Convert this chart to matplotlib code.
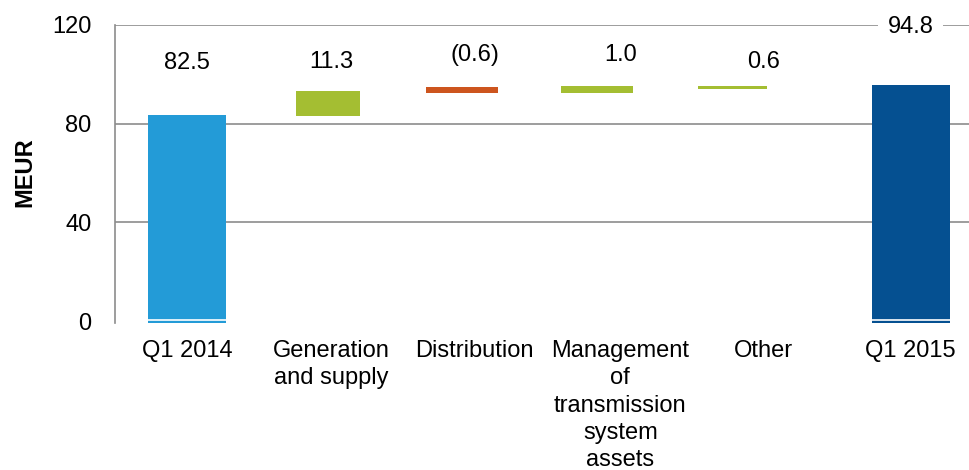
import matplotlib
matplotlib.use('Agg')
import matplotlib.pyplot as plt

plt.rcParams['font.family'] = ['Liberation Sans', 'DejaVu Sans']

# categories and values (bar extents as drawn in the reference)
categories = ['Q1 2014', 'Generation\nand supply', 'Distribution',
              'Management\nof\ntransmission\nsystem\nassets', 'Other', 'Q1 2015']
bar_bottoms = [-0.8, 83.1, 92.3, 92.3, 94.0, -0.8]
bar_tops = [83.5, 93.2, 94.7, 95.4, 95.1, 95.7]
value_labels = ['82.5', '11.3', '(0.6)', '1.0', '0.6', '94.8']
label_y = [104.5, 104.8, 108.0, 108.0, 104.8, 119.2]
bar_colors = ['#239BD7', '#A4BE32', '#CD551E', '#A4BE32', '#A4BE32', '#055091']
grid_vals = [40, 80, 120]

# layout
bar_x = [0, 1.044, 2.04, 3.04, 4.04, 5.36]
bar_w = [0.578, 0.48, 0.533, 0.533, 0.51, 0.578]
text_x = [0, 1.067, 2.13, 3.21, 4.27, 5.36]

fig = plt.figure(figsize=(9.7, 4.7), dpi=100)
ax = fig.add_axes([115 / 970, 147 / 470, 855 / 970, 298 / 470])

heights = [t - b for t, b in zip(bar_tops, bar_bottoms)]
ax.bar(bar_x, heights, bottom=bar_bottoms, width=bar_w, color=bar_colors,
       linewidth=0, zorder=3)
# thin white line near the base of the total bars
for i in (0, 5):
    ax.plot([bar_x[i] - bar_w[i] / 2, bar_x[i] + bar_w[i] / 2], [0.35, 0.35],
            color='white', lw=1.2, zorder=4, solid_capstyle='butt')

for i, lab in enumerate(value_labels):
    kw = {}
    if i == 5:
        kw['bbox'] = dict(facecolor='white', edgecolor='none', pad=7)
    ax.text(text_x[i], label_y[i], lab, ha='center', va='center',
            fontsize=17, color='black', zorder=5, **kw)

for g in grid_vals:
    ax.axhline(g, color='#8c8c8c', lw=1.2, zorder=0)

ax.set_xlim(-0.533, 5.8)
ax.set_ylim(-0.8, 120)
ax.set_yticks([0, 40, 80, 120])
ax.tick_params(axis='y', length=0, pad=17, labelsize=17)
ax.set_xticks(text_x)
ax.set_xticklabels(categories, fontsize=17, linespacing=1.32)
ax.tick_params(axis='x', length=0, pad=12)

for s in ['top', 'right', 'bottom']:
    ax.spines[s].set_visible(False)
ax.spines['left'].set_color('#8c8c8c')
ax.spines['left'].set_linewidth(1.2)

fig.text(25 / 970, 1 - 172 / 470, 'MEUR', rotation=90, ha='center', va='center',
         fontsize=17, fontweight='bold')

fig.savefig('out.png', dpi=100, facecolor='white')
